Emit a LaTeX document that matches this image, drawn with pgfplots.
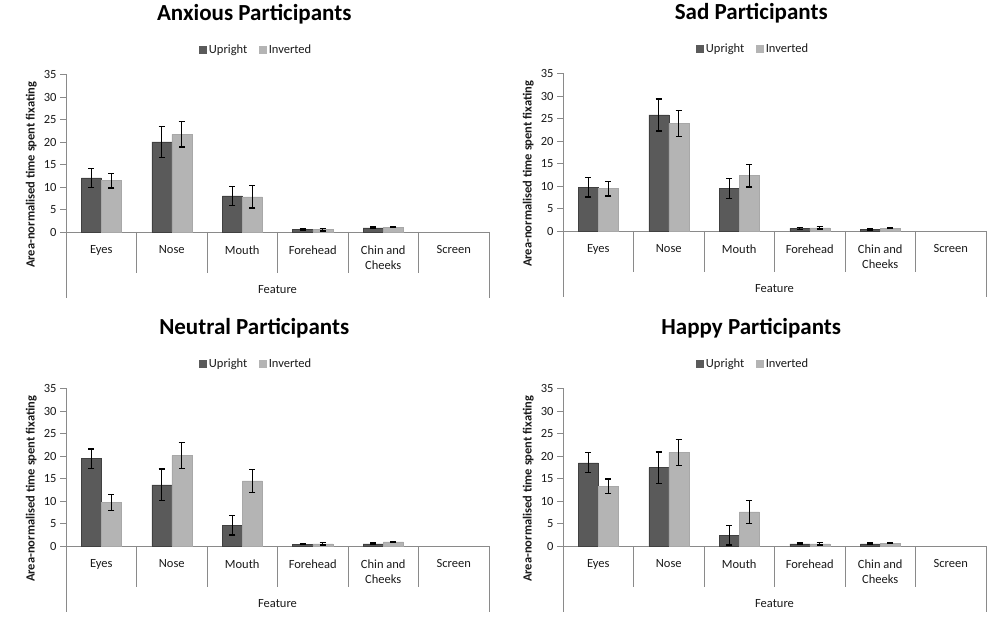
\documentclass[border=0pt]{standalone}
\usepackage{fontspec}
\setmainfont{Carlito}
\usepackage{pgfplots}
\usepackage{pgfplotstable}
\pgfplotsset{compat=1.18}
\definecolor{upr}{HTML}{5A5A5A}
\definecolor{uprb}{HTML}{404040}
\definecolor{inv}{HTML}{B4B4B4}
\definecolor{invb}{HTML}{A8A8A8}
\definecolor{axgray}{HTML}{8A8A8A}
\definecolor{txt}{HTML}{1A1A1A}
\newcommand\lbl{\fontsize{12.5}{15}\selectfont}
\newcommand\ylbl{\bfseries\fontsize{12.5}{15}\selectfont}
\newcommand\ttl{\bfseries\fontsize{23}{27}\selectfont}

\pgfplotstableread{
x U Ue I Ie
0 12.0 2.1 11.4 1.6
1 20.0 3.5 21.7 2.8
2 8.0 2.1 7.8 2.5
3 0.5 0.15 0.5 0.25
4 0.9 0.2 1.1 0.15
}\anxious
\pgfplotstableread{
x U Ue I Ie
0 9.7 2.15 9.4 1.6
1 25.8 3.55 23.9 2.9
2 9.4 2.25 12.3 2.5
3 0.6 0.2 0.7 0.25
4 0.4 0.15 0.6 0.1
}\sad
\pgfplotstableread{
x U Ue I Ie
0 19.4 2.15 9.7 1.8
1 13.6 3.5 20.1 2.9
2 4.6 2.15 14.5 2.55
3 0.4 0.1 0.5 0.25
4 0.5 0.15 0.9 0.15
}\neutral
\pgfplotstableread{
x U Ue I Ie
0 18.5 2.2 13.3 1.6
1 17.4 3.5 20.8 2.85
2 2.4 2.15 7.6 2.55
3 0.5 0.15 0.5 0.25
4 0.5 0.15 0.6 0.1
}\happy

\pgfplotsset{
 panel/.style={
  scale only axis, width=423pt, height=157.5pt,
  anchor=south west,
  xmin=-0.5, xmax=5.5, ymin=0, ymax=35,
  axis x line*=bottom, axis y line*=left,
  axis line style={axgray, line width=0.8pt, -},
  ytick={0,5,...,35},
  tick align=outside,
  major tick length=6pt,
  ytick style={axgray, line width=0.8pt},
  xtick={0,...,5},
  xticklabels={Eyes,Nose,Mouth,Forehead,{Chin and\\Cheeks},Screen},
  x tick style={draw=none},
  xticklabel style={align=center, font=\lbl, text=txt, yshift=-4pt},
  yticklabel style={font=\lbl, text=txt},
  /pgf/number format/assume math mode=true,
  clip=false,
  ybar, bar width=20pt,
  ylabel={Area-normalised time spent fixating},
  ylabel style={font=\ylbl, text=txt, at={(axis description cs:-0.082,0.363)}, anchor=center},
  xlabel={Feature},
  xlabel style={font=\lbl, text=txt, at={(axis description cs:0.5,0)}, anchor=center, yshift=-58pt},
  title style={font=\ttl, text=black, at={(axis description cs:0.445,1.345)}, anchor=center},
  legend style={at={(axis description cs:0.45,1.153)}, anchor=center, draw=none, fill=none,
    legend columns=2, font=\lbl, text=txt,
    /tikz/every even column/.append style={column sep=10pt},
    /tikz/every odd column/.append style={column sep=0pt}},
  legend image code/.code={\fill[#1,draw=none] (0pt,-3.5pt) rectangle (7.5pt,4pt);},
 },
 upbar/.style={bar shift=-10pt, fill=upr, draw=uprb, line width=0.5pt,
   error bars/.cd, y dir=both, y explicit,
   error bar style={black, line width=1.3pt},
   error mark options={black, rotate=90, mark size=3.2pt, line width=1.3pt}},
 invbar/.style={bar shift=10pt, fill=inv, draw=invb, line width=0.5pt,
   error bars/.cd, y dir=both, y explicit,
   error bar style={black, line width=1.3pt},
   error mark options={black, rotate=90, mark size=3.2pt, line width=1.3pt}},
}
\newcommand\separators{%
 \pgfplotsinvokeforeach{0.5,1.5,2.5,3.5,4.5}{\draw[axgray, line width=0.8pt] (axis cs:##1,0) -- ([yshift=-41pt]axis cs:##1,0);}%
 \draw[axgray, line width=0.8pt] (axis cs:-0.5,0) -- ([yshift=-66pt]axis cs:-0.5,0);
 \draw[axgray, line width=0.8pt] (axis cs:5.5,0) -- ([yshift=-66pt]axis cs:5.5,0);
}
\newcommand\panel[3]{%
 \begin{axis}[panel, at={#1}, title={#2}]
  \addplot[upbar] table[x=x, y=U, y error=Ue] {#3};
  \addlegendentry{Upright}
  \addplot[invbar] table[x=x, y=I, y error=Ie] {#3};
  \addlegendentry{Inverted}
  \separators
 \end{axis}}

\begin{document}
\begin{tikzpicture}
\path[use as bounding box, fill=white] (0,0) rectangle (1000pt,618pt);
\panel{(66pt,386pt)}{Anxious Participants}{\anxious}
\panel{(563pt,387pt)}{Sad Participants}{\sad}
\panel{(66pt,72pt)}{Neutral Participants}{\neutral}
\panel{(563pt,72pt)}{Happy Participants}{\happy}
\end{tikzpicture}
\end{document}
